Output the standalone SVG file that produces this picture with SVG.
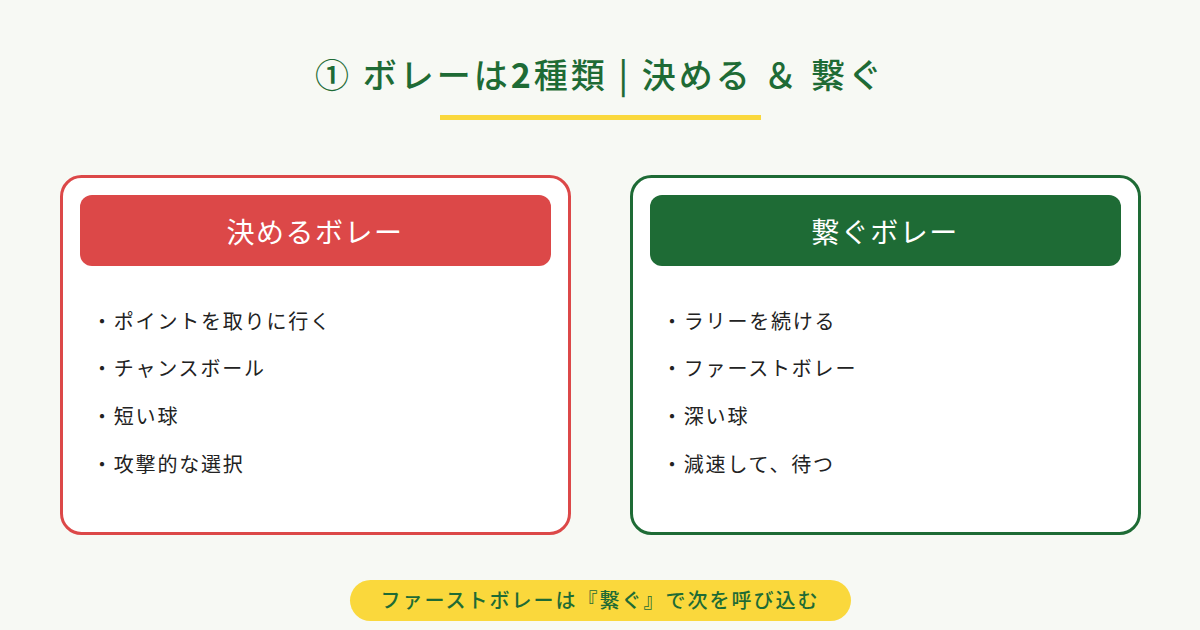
<svg xmlns="http://www.w3.org/2000/svg" width="1200" height="630" viewBox="0 0 1200 630">
<style>
text{font-family:"Noto Sans CJK JP","Noto Sans",sans-serif}
.item{font-size:20px;fill:#222;letter-spacing:1.8px}
.hd{font-size:28px;fill:#fff;text-anchor:middle;letter-spacing:1.5px}
</style>
<rect width="1200" height="630" fill="#f7f9f4"/>
<text x="600" y="88" font-size="34" font-weight="500" fill="#1e6b35" text-anchor="middle" letter-spacing="3">① ボレーは<tspan font-weight="bold">2</tspan>種類 | 決める ＆ 繋ぐ</text>
<rect x="440" y="115" width="321" height="5" fill="#fad83c"/>
<g id="left">
<rect x="61.5" y="176.5" width="508" height="357" rx="20" fill="#fff" stroke="#dc4848" stroke-width="3"/>
<rect x="80" y="195" width="471" height="71" rx="12" fill="#dc4848"/>
<text class="hd" x="315" y="243">決めるボレー</text>
<text class="item" x="92" y="329">・ポイントを取りに行く</text>
<text class="item" x="92" y="376">・チャンスボール</text>
<text class="item" x="92" y="424">・短い球</text>
<text class="item" x="92" y="472">・攻撃的な選択</text>
</g>
<g id="right">
<rect x="631.5" y="176.5" width="508" height="357" rx="20" fill="#fff" stroke="#1e6b35" stroke-width="3"/>
<rect x="650" y="195" width="471" height="71" rx="12" fill="#1e6b35"/>
<text class="hd" x="885" y="243">繋ぐボレー</text>
<text class="item" x="662" y="329">・ラリーを続ける</text>
<text class="item" x="662" y="376">・ファーストボレー</text>
<text class="item" x="662" y="424">・深い球</text>
<text class="item" x="662" y="472">・減速して、待つ</text>
</g>
<g id="connectors"/>
<g id="note">
<rect x="350" y="580" width="501" height="41" rx="20.5" fill="#fad83c"/>
<text x="600" y="608" font-size="20" font-weight="500" fill="#1e6b35" text-anchor="middle" letter-spacing="2">ファーストボレーは『繋ぐ』で次を呼び込む</text>
</g>
</svg>
